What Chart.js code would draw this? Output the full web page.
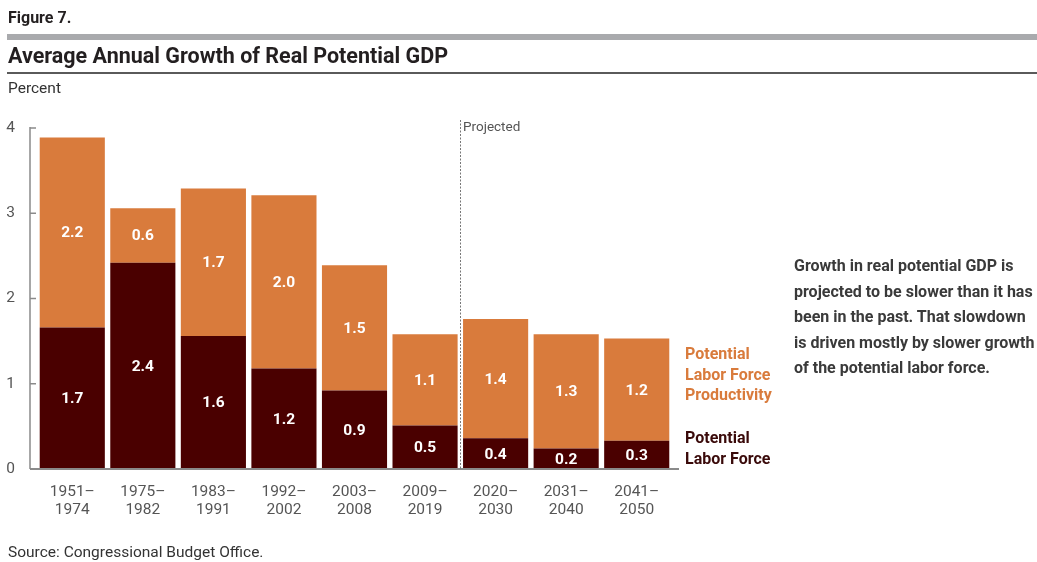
<!DOCTYPE html>
<html>
<head>
<meta charset="utf-8">
<script src="https://cdn.jsdelivr.net/npm/chart.js@4/dist/chart.umd.min.js"></script>
<style>
  html, body { margin: 0; padding: 0; background: #fff; }
  body { width: 1037px; height: 562px; position: relative; overflow: hidden; font-family: Roboto, "Open Sans", sans-serif; }
  #wrap { position: absolute; left: 0; top: 0; width: 1037px; height: 562px; }
  .t { position: absolute; white-space: nowrap; }
  #fig { left: 8px; top: 8px; font-size: 16px; font-weight: bold; color: #231f20; }
  #rule1 { position: absolute; left: 7px; top: 34px; width: 1030px; height: 6px; background: #a9aaad; }
  #title { left: 8px; top: 42px; font-size: 21.5px; font-weight: bold; color: #231f20; line-height: 28px; }
  #rule2 { position: absolute; left: 7px; top: 72px; width: 1030px; height: 2px; background: #5a5a5a; }
  #pct { left: 8px; top: 79px; font-size: 15.5px; color: #333; }
  #proj { left: 463px; top: 118px; font-size: 13.5px; color: #555; }
  #lgP { left: 685px; top: 344px; font-size: 16px; font-weight: bold; color: #d97b3c; line-height: 20.5px; }
  #lgL { left: 685px; top: 428px; font-size: 16px; font-weight: bold; color: #3a0a0a; line-height: 20.5px; }
  #note { left: 794px; top: 253px; font-size: 16px; font-weight: bold; color: #3a3a3a; line-height: 25.5px; }
  #src { left: 8px; top: 543px; font-size: 15.5px; color: #333; }
</style>
</head>
<body>
<div id="wrap"><canvas id="c" width="1037" height="562"></canvas></div>
<div class="t" id="fig">Figure 7.</div>
<div id="rule1"></div>
<div class="t" id="title">Average Annual Growth of Real Potential GDP</div>
<div id="rule2"></div>
<div class="t" id="pct">Percent</div>
<div class="t" id="proj">Projected</div>
<div class="t" id="lgP">Potential<br>Labor Force<br>Productivity</div>
<div class="t" id="lgL">Potential<br>Labor Force</div>
<div class="t" id="note">Growth in real potential GDP is<br>projected to be slower than it has<br>been in the past. That slowdown<br>is driven mostly by slower growth<br>of the potential labor force.</div>
<div class="t" id="src">Source: Congressional Budget Office.</div>
<script>
// ---- data ----
const periods = [
  ["1951\u2013", "1974"],
  ["1975\u2013", "1982"],
  ["1983\u2013", "1991"],
  ["1992\u2013", "2002"],
  ["2003\u2013", "2008"],
  ["2009\u2013", "2019"],
  ["2020\u2013", "2030"],
  ["2031\u2013", "2040"],
  ["2041\u2013", "2050"]
];
const laborForce   = [1.66, 2.42, 1.56, 1.18, 0.92, 0.51, 0.36, 0.24, 0.33];
const productivity = [2.23, 0.64, 1.73, 2.03, 1.47, 1.07, 1.40, 1.34, 1.20];
const yTicks = [0, 1, 2, 3, 4];
const projectedStartIndex = 6;

const ORANGE = '#d97b3c';
const DARK = '#4a0000';
const AXIS = '#8a8a8a';

const axisPlugin = {
  id: 'axisPlugin',
  afterDatasetsDraw(chart) {
    const ctx = chart.ctx;
    const a = chart.chartArea;
    const ys = chart.scales.y, xs = chart.scales.x;
    const left = a.left - 7, right = a.right + 7;
    ctx.save();
    ctx.strokeStyle = AXIS;
    ctx.lineWidth = 1.5;
    ctx.beginPath();
    ctx.moveTo(left, ys.getPixelForValue(yTicks[yTicks.length - 1]) - 1);
    ctx.lineTo(left, ys.getPixelForValue(0));
    ctx.stroke();
    yTicks.forEach(v => {
      const y = ys.getPixelForValue(v);
      ctx.beginPath();
      ctx.moveTo(left, y);
      ctx.lineTo(left + 6, y);
      ctx.stroke();
    });
    ctx.lineWidth = 2;
    ctx.beginPath();
    ctx.moveTo(left, ys.getPixelForValue(0));
    ctx.lineTo(right, ys.getPixelForValue(0));
    ctx.stroke();
    const px = Math.round((xs.getPixelForValue(projectedStartIndex - 1) + xs.getPixelForValue(projectedStartIndex)) / 2) + 0.5;
    ctx.strokeStyle = '#777';
    ctx.lineWidth = 1;
    ctx.setLineDash([2, 1.5]);
    ctx.beginPath();
    ctx.moveTo(px, a.top - 8);
    ctx.lineTo(px, ys.getPixelForValue(0));
    ctx.stroke();
    ctx.setLineDash([]);
    ctx.fillStyle = '#ffffff';
    ctx.font = 'bold 15.5px Roboto, "Open Sans", sans-serif';
    ctx.textAlign = 'center';
    ctx.textBaseline = 'middle';
    chart.data.datasets.forEach((ds, di) => {
      const meta = chart.getDatasetMeta(di);
      meta.data.forEach((el, i) => {
        const cy = (el.y + el.base) / 2;
        ctx.fillText(ds.data[i].toFixed(1), el.x, cy + 1);
      });
    });
    ctx.restore();
  }
};

new Chart(document.getElementById('c'), {
  type: 'bar',
  data: {
    labels: periods,
    datasets: [
      { label: 'Potential Labor Force', data: laborForce, backgroundColor: DARK, borderWidth: 0 },
      { label: 'Potential Labor Force Productivity', data: productivity, backgroundColor: ORANGE, borderWidth: 0 }
    ]
  },
  options: {
    responsive: false,
    animation: false,
    devicePixelRatio: 1,
    layout: { padding: { left: 0, right: 365, top: 128, bottom: 0 } },
    plugins: { legend: { display: false }, tooltip: { enabled: false }, title: { display: false } },
    datasets: { bar: { categoryPercentage: 1.0, barPercentage: 0.923 } },
    scales: {
      x: {
        stacked: true,
        grid: { display: false, drawTicks: false },
        border: { display: false },
        ticks: { color: '#555', font: { size: 15.5, family: 'Roboto, "Open Sans", sans-serif', lineHeight: 1.18 }, padding: 14, maxRotation: 0, autoSkip: false },
        afterFit(s) { s.height = 93; }
      },
      y: {
        stacked: true,
        min: 0, max: 4,
        afterBuildTicks(s) { s.ticks = yTicks.map(v => ({ value: v })); },
        grid: { display: false, drawTicks: false },
        border: { display: false },
        ticks: { color: '#555', font: { size: 15.5, family: 'Roboto, "Open Sans", sans-serif' }, padding: 22 },
        afterFit(s) { s.width = 37; }
      }
    }
  },
  plugins: [axisPlugin]
});
</script>
</body>
</html>
